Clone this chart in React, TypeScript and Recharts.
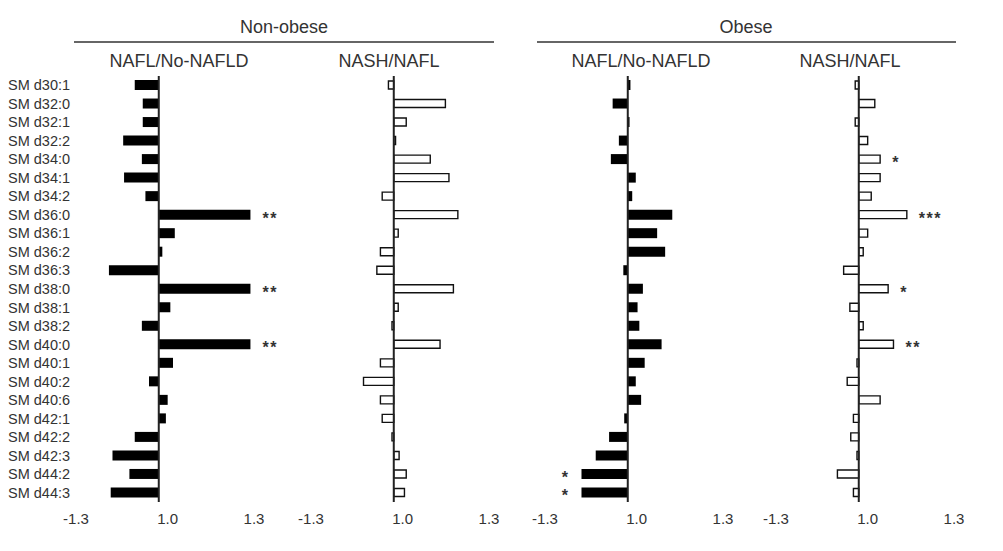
import React from 'react';
import { BarChart, Bar, XAxis, YAxis, ReferenceLine, LabelList } from 'recharts';

const categories = [
  'SM d30:1', 'SM d32:0', 'SM d32:1', 'SM d32:2', 'SM d34:0', 'SM d34:1', 'SM d34:2',
  'SM d36:0', 'SM d36:1', 'SM d36:2', 'SM d36:3', 'SM d38:0', 'SM d38:1', 'SM d38:2',
  'SM d40:0', 'SM d40:1', 'SM d40:2', 'SM d40:6', 'SM d42:1', 'SM d42:2', 'SM d42:3',
  'SM d44:2', 'SM d44:3',
];

// bar lengths, in units of half the axis span
const nonObeseNafl = [-0.27, -0.18, -0.18, -0.4, -0.19, -0.39, -0.15, 1.03, 0.18, 0.04, -0.56, 1.03, 0.13, -0.19, 1.03, 0.16, -0.11, 0.1, 0.08, -0.27, -0.52, -0.33, -0.54];
const nonObeseNash = [-0.06, 0.58, 0.14, 0.02, 0.41, 0.62, -0.13, 0.72, 0.05, -0.15, -0.19, 0.67, 0.05, -0.02, 0.52, -0.15, -0.34, -0.15, -0.13, -0.02, 0.06, 0.14, 0.12];
const obeseNafl = [0.03, -0.17, 0.02, -0.1, -0.19, 0.09, 0.05, 0.5, 0.33, 0.42, -0.05, 0.17, 0.11, 0.13, 0.38, 0.19, 0.09, 0.15, -0.04, -0.21, -0.36, -0.52, -0.52];
const obeseNash = [-0.04, 0.18, -0.04, 0.1, 0.24, 0.24, 0.14, 0.54, 0.1, 0.05, -0.17, 0.33, -0.1, 0.05, 0.39, -0.02, -0.13, 0.24, -0.06, -0.09, -0.02, -0.24, -0.06];

const nonObeseNaflSig = ['', '', '', '', '', '', '', '**', '', '', '', '**', '', '', '**', '', '', '', '', '', '', '', ''];
const nonObeseNashSig = categories.map(() => '');
const obeseNaflSig = ['', '', '', '', '', '', '', '', '', '', '', '', '', '', '', '', '', '', '', '', '', '*', '*'];
const obeseNashSig = ['', '', '', '', '*', '', '', '***', '', '', '', '*', '', '', '**', '', '', '', '', '', '', '', ''];

const tickValues = [-0.93, 0.1, 1.07];
const tickLabels = ['-1.3', '1.0', '1.3'];

const TEXT = '#333';
const FONT = 'Liberation Sans, Arial, sans-serif';

function makeRows(values: number[], sig: string[]) {
  return categories.map((name, i) => ({ name, v: values[i], sig: sig[i] }));
}

function XTick(props: any) {
  const { x, index } = props;
  return (
    <text x={x} y={524} textAnchor="middle" fontSize={15} fill={TEXT} fontFamily={FONT}>
      {tickLabels[index]}
    </text>
  );
}

function YTick(props: any) {
  const { y, payload } = props;
  return (
    <text x={8} y={y + 5} textAnchor="start" fontSize={14.5} fill={TEXT} fontFamily={FONT}>
      {payload.value}
    </text>
  );
}

function makeSigLabel(values: number[]) {
  return (props: any) => {
    const vb = props.viewBox || props;
    const x = vb.x ?? props.x;
    const y = vb.y ?? props.y;
    const w = vb.width ?? props.width;
    const h = vb.height ?? props.height;
    const value = props.value;
    const idx = props.index;
    if (!value) return null;
    const neg = values[idx] < 0;
    const cy = y + h / 2;
    const end = neg ? Math.min(x, x + w) : Math.max(x, x + w);
    return (
      <text
        x={neg ? end - 12 : end + 12}
        y={cy + 9}
        textAnchor={neg ? 'end' : 'start'}
        fontSize={16}
        fontWeight="bold"
        letterSpacing={1.5}
        fill={TEXT}
        fontFamily={FONT}
      >
        {value}
      </text>
    );
  };
}

type PanelProps = {
  values: number[];
  sig: string[];
  axisX: number;
  filled: boolean;
  showLabels?: boolean;
};

function Panel({ values, sig, axisX, filled, showLabels }: PanelProps) {
  const plotLeft = axisX - 83;
  const plotRight = axisX + 95;
  const yW = showLabels ? 68 : 0;
  return (
    <div style={{ position: 'absolute', left: 0, top: 0 }}>
      <BarChart
        width={1003}
        height={551}
        layout="vertical"
        data={makeRows(values, sig)}
        margin={{ top: 76, bottom: 19, left: plotLeft - yW, right: 1003 - plotRight }}
        barCategoryGap={0}
      >
        <XAxis
          type="number"
          domain={[-0.93, 1.07]}
          ticks={tickValues}
          allowDataOverflow
          axisLine={false}
          tickLine={false}
          tick={<XTick />}
          height={30}
          interval={0}
        />
        <YAxis
          type="category"
          dataKey="name"
          hide={!showLabels}
          width={yW}
          axisLine={false}
          tickLine={false}
          tick={<YTick />}
          interval={0}
        />
        <Bar
          dataKey="v"
          fill={filled ? '#000' : '#fff'}
          stroke={filled ? 'none' : '#111'}
          strokeWidth={filled ? 0 : 1.4}
          barSize={filled ? 10 : 8}
          isAnimationActive={false}
        >
          <LabelList dataKey="sig" content={makeSigLabel(values)} />
        </Bar>
        <ReferenceLine x={0} stroke="#222" strokeWidth={2} ifOverflow="visible" />
      </BarChart>
    </div>
  );
}

export default function App() {
  return (
    <div style={{ position: 'absolute', left: 0, top: 0, width: 1003, height: 551, background: '#fff', overflow: 'hidden' }}>
      <Panel values={nonObeseNafl} sig={nonObeseNaflSig} axisX={159} filled showLabels />
      <Panel values={nonObeseNash} sig={nonObeseNashSig} axisX={394} filled={false} />
      <Panel values={obeseNafl} sig={obeseNaflSig} axisX={628} filled />
      <Panel values={obeseNash} sig={obeseNashSig} axisX={859} filled={false} />
      <svg width={1003} height={551} style={{ position: 'absolute', left: 0, top: 0, pointerEvents: 'none' }}>
        <g fontFamily={FONT} fill={TEXT} fontSize={18} textAnchor="middle">
          <text x={284} y={33}>Non-obese</text>
          <text x={746} y={33}>Obese</text>
          <text x={179} y={67}>NAFL/No-NAFLD</text>
          <text x={389} y={67}>NASH/NAFL</text>
          <text x={641} y={67}>NAFL/No-NAFLD</text>
          <text x={850} y={67}>NASH/NAFL</text>
        </g>
        <line x1={74} x2={494} y1={42} y2={42} stroke="#333" strokeWidth={1.6} />
        <line x1={537} x2={956} y1={42} y2={42} stroke="#333" strokeWidth={1.6} />
      </svg>
    </div>
  );
}
